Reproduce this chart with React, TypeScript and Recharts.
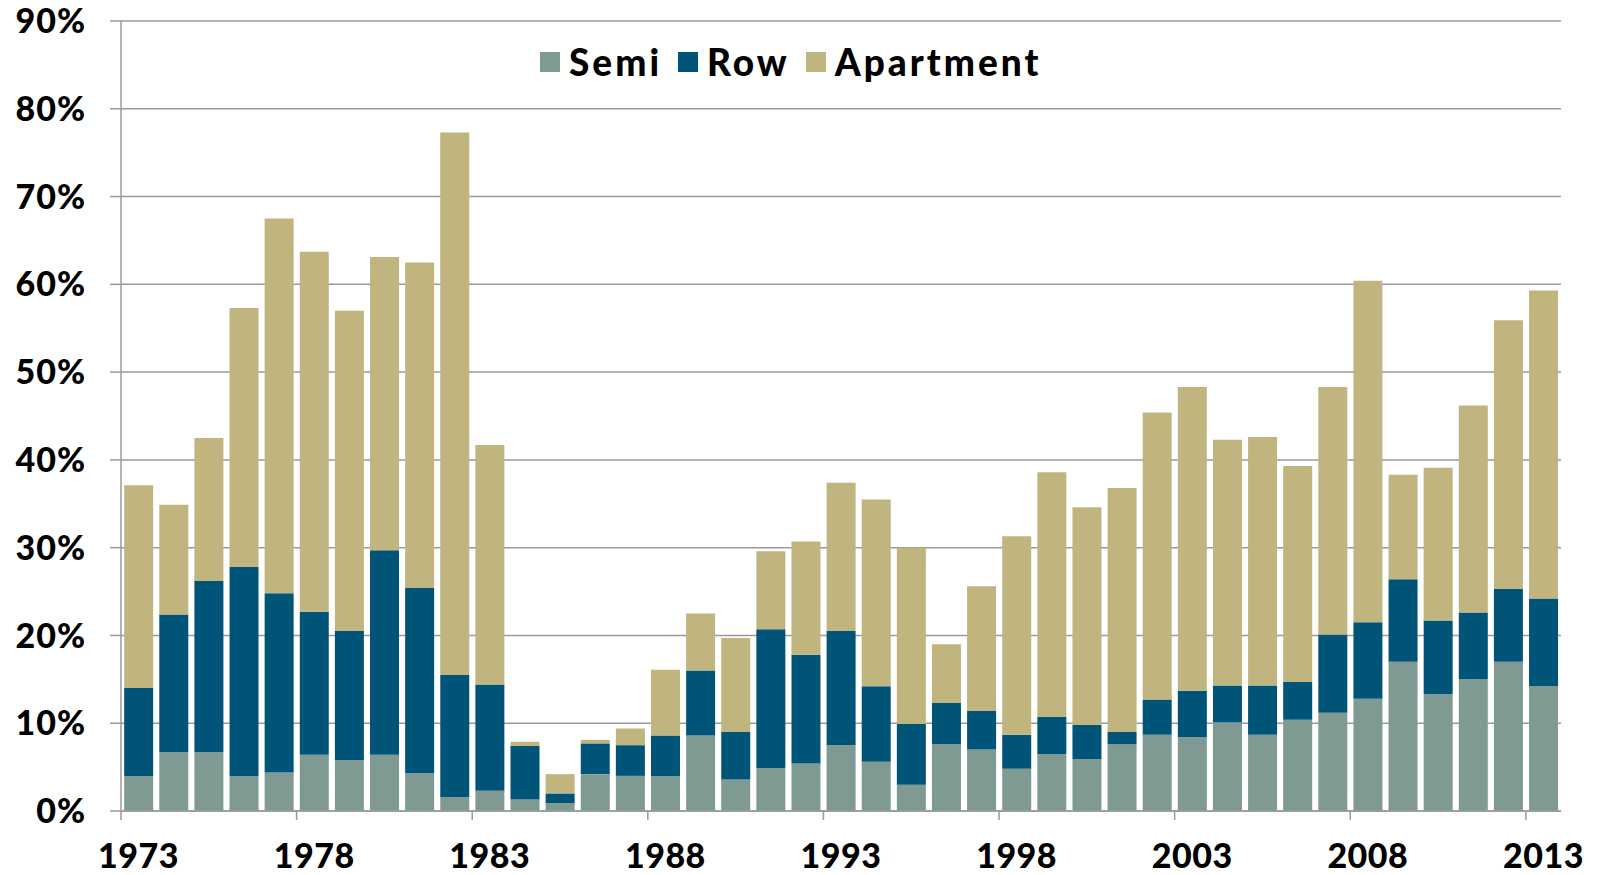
import React from 'react';
import { BarChart, Bar, XAxis, YAxis, CartesianGrid, Legend } from 'recharts';

const years = [
  1973, 1974, 1975, 1976, 1977, 1978, 1979, 1980, 1981, 1982, 1983, 1984, 1985, 1986,
  1987, 1988, 1989, 1990, 1991, 1992, 1993, 1994, 1995, 1996, 1997, 1998, 1999, 2000,
  2001, 2002, 2003, 2004, 2005, 2006, 2007, 2008, 2009, 2010, 2011, 2012, 2013,
];

const semi = [
  4.0, 6.7, 6.7, 4.0, 4.4, 6.4, 5.8, 6.4, 4.3, 1.6, 2.3, 1.3, 0.9, 4.2,
  4.0, 4.0, 8.6, 3.6, 4.9, 5.4, 7.5, 5.6, 3.0, 7.6, 7.0, 4.8, 6.5, 5.9,
  7.6, 8.7, 8.4, 10.1, 8.7, 10.4, 11.2, 12.8, 17.0, 13.3, 15.0, 17.0, 14.2,
];

const row = [
  10.0, 15.7, 19.5, 23.8, 20.4, 16.3, 14.7, 23.3, 21.1, 13.9, 12.1, 6.1, 1.1, 3.5,
  3.5, 4.6, 7.4, 5.4, 15.8, 12.4, 13.0, 8.6, 6.9, 4.7, 4.4, 3.9, 4.2, 3.9,
  1.4, 4.0, 5.3, 4.2, 5.6, 4.3, 8.9, 8.7, 9.4, 8.4, 7.6, 8.3, 10.0,
];

const apartment = [
  23.1, 12.5, 16.3, 29.5, 42.7, 41.0, 36.5, 33.4, 37.1, 61.8, 27.3, 0.5, 2.2, 0.4,
  1.9, 7.5, 6.5, 10.7, 8.9, 12.9, 16.9, 21.3, 20.1, 6.7, 14.2, 22.6, 27.9, 24.8,
  27.8, 32.7, 34.6, 28.0, 28.3, 24.6, 28.2, 38.9, 11.9, 17.4, 23.6, 30.6, 35.1,
];

const yTicks = [0, 10, 20, 30, 40, 50, 60, 70, 80, 90];
const legendOrder = ['Semi', 'Row', 'Apartment'];

const data = years.map((year, i) => ({
  year,
  Semi: semi[i],
  Row: row[i],
  Apartment: apartment[i],
}));

const WIDTH = 1604;
const HEIGHT = 875;
const MARGIN = { top: 21, right: 43, left: 0, bottom: 0 };
const Y_AXIS_WIDTH = 121;
const X_AXIS_HEIGHT = 64;
const PLOT_WIDTH = WIDTH - MARGIN.left - MARGIN.right - Y_AXIS_WIDTH;
const BAND = PLOT_WIDTH / years.length;

const GRID = '#9a9a9a';
const FONT = "Lato, 'Open Sans', sans-serif";

const YearTick = (props: any) => {
  const { x, y, payload } = props;
  const edge = x - BAND / 2;
  return (
    <g>
      <line x1={edge} x2={edge} y1={y} y2={y + 9} stroke={GRID} strokeWidth={1.5} />
      <text
        x={x}
        y={y + 57}
        textAnchor="middle"
        fill="#000"
        style={{ fontFamily: FONT, fontWeight: 900, fontSize: 34, letterSpacing: 0.5 }}
      >
        {payload.value}
      </text>
    </g>
  );
};

const LegendBox = (props: any) => {
  const items = [...(props.payload || [])].sort(
    (a: any, b: any) => legendOrder.indexOf(a.value) - legendOrder.indexOf(b.value)
  );
  return (
    <div
      style={{
        display: 'flex',
        alignItems: 'center',
        fontFamily: FONT,
        fontWeight: 900,
        fontSize: 37,
        letterSpacing: 3,
        lineHeight: '44px',
        color: '#000',
      }}
    >
      {items.map((p: any) => (
        <div key={p.value} style={{ display: 'flex', alignItems: 'center', marginRight: 16 }}>
          <span style={{ display: 'inline-block', width: 20, height: 20, background: p.color, marginRight: 9 }} />
          <span>{p.value}</span>
        </div>
      ))}
    </div>
  );
};

export default function App() {
  return (
    <div style={{ position: 'absolute', left: 0, top: 0, width: WIDTH, height: HEIGHT, background: '#fff' }}>
      <BarChart width={WIDTH} height={HEIGHT} data={data} margin={MARGIN} barCategoryGap="9%">
        <CartesianGrid horizontal vertical={false} stroke={GRID} strokeWidth={1.5} />
        <XAxis
          dataKey="year"
          height={X_AXIS_HEIGHT}
          interval={4}
          tickSize={0}
          tickMargin={0}
          tickLine={false}
          axisLine={{ stroke: GRID, strokeWidth: 1.5 }}
          tick={<YearTick />}
        />
        <YAxis
          width={Y_AXIS_WIDTH}
          domain={[0, 90]}
          ticks={yTicks}
          tickFormatter={(v: number) => `${v}%`}
          axisLine={{ stroke: GRID, strokeWidth: 1.5 }}
          tickLine={{ stroke: GRID, strokeWidth: 1.5 }}
          tickSize={11}
          tickMargin={24}
          tick={{ fill: '#000', fontFamily: FONT, fontWeight: 900, fontSize: 34, letterSpacing: 1 }}
        />
        <Legend
          verticalAlign="middle"
          align="center"
          content={<LegendBox />}
          wrapperStyle={{ top: 40, left: 540, width: 'auto' }}
        />
        <Bar dataKey="Semi" stackId="a" fill="#7f9a92" isAnimationActive={false} />
        <Bar dataKey="Row" stackId="a" fill="#005478" isAnimationActive={false} />
        <Bar dataKey="Apartment" stackId="a" fill="#c0b47f" isAnimationActive={false} />
      </BarChart>
    </div>
  );
}
